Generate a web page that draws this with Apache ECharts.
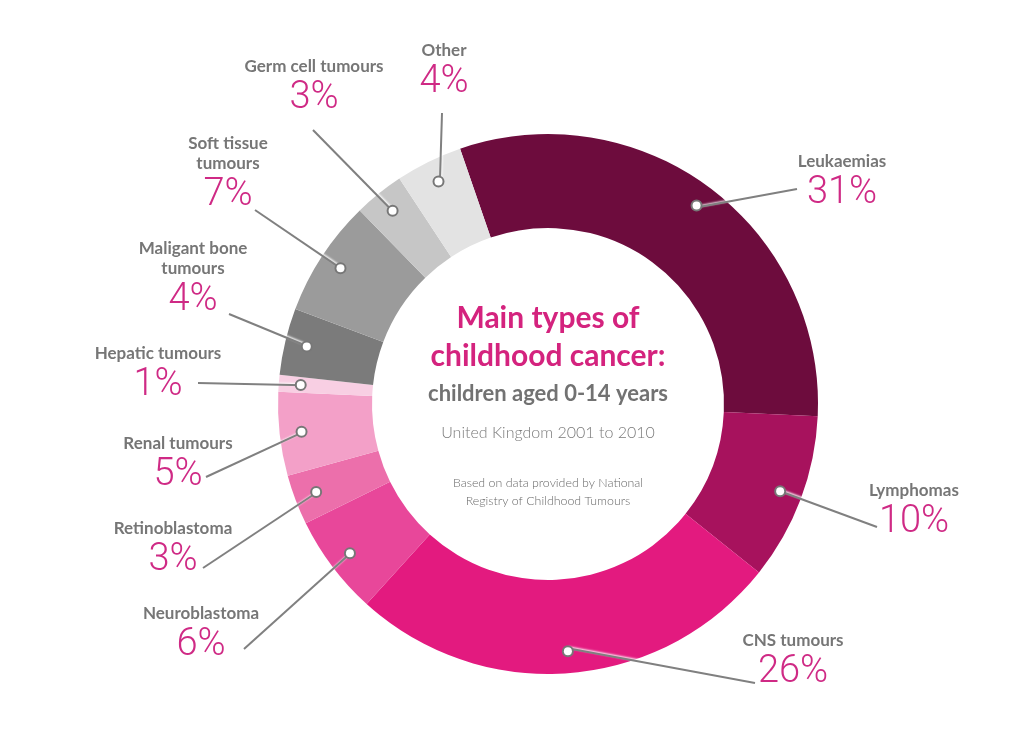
<!DOCTYPE html>
<html>
<head>
<meta charset="utf-8">
<title>Main types of childhood cancer</title>
<script src="https://cdn.jsdelivr.net/npm/echarts@6/dist/echarts.min.js"></script>
<style>
  html, body { margin: 0; padding: 0; background: #ffffff; }
  #chart { width: 1016px; height: 741px; }
</style>
</head>
<body>
<div id="chart"></div>
<script>
/* 数据：各类儿童癌症占比（英国 2001-2010） */
var CANCER_TYPES = [
    "Leukaemias", "Lymphomas", "CNS tumours", "Neuroblastoma", "Retinoblastoma",
    "Renal tumours", "Hepatic tumours", "Maligant bone\ntumours", "Soft tissue\ntumours",
    "Germ cell tumours", "Other"
];
var PERCENTS = [31, 10, 26, 6, 3, 5, 1, 4, 7, 3, 4];

/* 扇区配色 */
var SLICE_COLORS = [
    "#6d0c3d", "#a7125d", "#e31a7f", "#e8479a", "#ec6fab",
    "#f3a0c8", "#f8cfe3", "#7b7b7b", "#9b9b9b", "#c6c6c6", "#e3e3e3"
];

/* 标签位置：[文字块中心 x, 文字块顶部 y, 引线终点 x, 引线终点 y] */
var LABEL_SPOTS = [
    [842, 152, 797, 189],
    [914, 481, 877, 527],
    [793, 631, 755, 683],
    [201, 604, 244, 649],
    [173, 519, 203, 568],
    [178, 434, 206, 477],
    [158, 344, 198, 383],
    [193, 239, 229, 314],
    [228, 134, 255, 210],
    [314, 57, 313, 130],
    [444, 41, 442, 113]
];

var CENTER = [548, 404];
var START_ANGLE = 109;

var chart = echarts.init(document.getElementById("chart"));

var data = [];
for (var i = 0; i < CANCER_TYPES.length; i++) {
    data.push({
        name: CANCER_TYPES[i],
        value: PERCENTS[i],
        itemStyle: { color: SLICE_COLORS[i] }
    });
}

/* 透明副本：只用来放标签和圆点 */
var ghost = data.map(function (d) {
    return { name: d.name, value: d.value };
});

function labelText(p) {
    var rows = p.name.split("\n").map(function (s) { return "{n|" + s + "}"; });
    rows.push("{p|" + p.value + "%}");
    return rows.join("\n");
}

var centerLines = [
    { text: "Main types of", y: 318, font: "bold 30px Lato", color: "#d4237e" },
    { text: "childhood cancer:", y: 356, font: "bold 30px Lato", color: "#d4237e" },
    { text: "children aged 0-14 years", y: 394, font: "bold 22px Lato", color: "#727272" },
    { text: "United Kingdom 2001 to 2010", y: 433, font: "300 16px Lato", color: "#7a7a7a" },
    { text: "Based on data provided by National", y: 483, font: "300 12.4px Lato", color: "#6a6a6a" },
    { text: "Registry of Childhood Tumours", y: 501, font: "300 12.4px Lato", color: "#6a6a6a" }
];

chart.setOption({
    backgroundColor: "#ffffff",
    animation: false,
    graphic: centerLines.map(function (l) {
        return {
            type: "text",
            x: CENTER[0],
            y: l.y,
            silent: true,
            style: {
                text: l.text,
                font: l.font,
                fill: l.color,
                align: "center",
                verticalAlign: "middle"
            }
        };
    }),
    series: [
        {
            /* 可见圆环 */
            type: "pie",
            center: CENTER,
            radius: [176, 270],
            startAngle: START_ANGLE,
            silent: true,
            z: 2,
            label: { show: false },
            labelLine: { show: false },
            data: data
        },
        {
            /* 引线和文字 */
            type: "pie",
            center: CENTER,
            radius: [0, 245],
            startAngle: START_ANGLE,
            silent: true,
            z: 5,
            avoidLabelOverlap: false,
            itemStyle: { color: "transparent" },
            label: {
                show: true,
                position: "outside",
                align: "center",
                formatter: labelText,
                rich: {
                    n: {
                        fontFamily: "Lato",
                        fontWeight: "bold",
                        fontSize: 17,
                        lineHeight: 20,
                        color: "#767676"
                    },
                    p: {
                        fontFamily: "'Liberation Sans Narrow', Roboto, sans-serif",
                        fontWeight: 300,
                        fontSize: 38,
                        lineHeight: 42,
                        color: "#cf2a85"
                    }
                }
            },
            labelLine: {
                show: true,
                length: 20,
                length2: 0,
                lineStyle: {
                    color: "#808080",
                    width: 2,
                    shadowColor: "rgba(255,255,255,0.95)",
                    shadowBlur: 2,
                    shadowOffsetX: 1,
                    shadowOffsetY: -1
                }
            },
            labelLayout: function (p) {
                var s = LABEL_SPOTS[p.dataIndex];
                var a = p.labelLinePoints ? p.labelLinePoints[0] : [s[2], s[3]];
                return {
                    x: s[0],
                    y: s[1],
                    align: "center",
                    verticalAlign: "top",
                    labelLinePoints: [a, [s[2], s[3]]]
                };
            },
            data: ghost
        },
        {
            /* 引线起点圆点 */
            type: "pie",
            center: CENTER,
            radius: [215, 275],
            startAngle: START_ANGLE,
            silent: true,
            z: 8,
            itemStyle: { color: "transparent" },
            label: {
                show: true,
                position: "inside",
                formatter: "{d| }",
                rich: {
                    d: {
                        width: 8,
                        height: 8,
                        borderRadius: 6,
                        backgroundColor: "#ffffff",
                        borderColor: "#777777",
                        borderWidth: 2
                    }
                }
            },
            labelLine: { show: false },
            data: ghost
        }
    ]
});
</script>
</body>
</html>
